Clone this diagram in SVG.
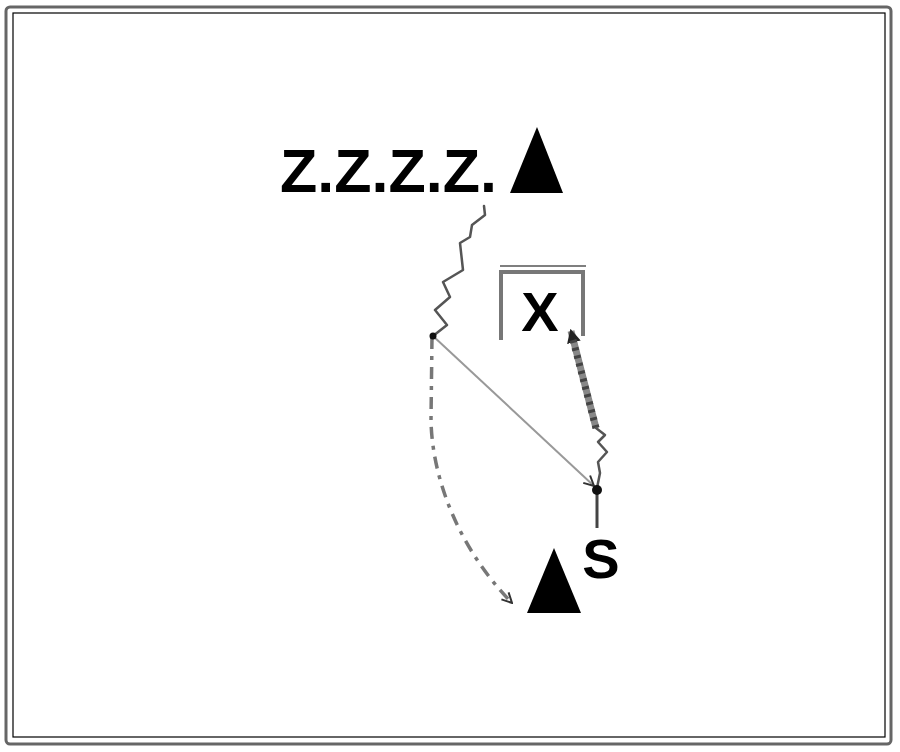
<svg xmlns="http://www.w3.org/2000/svg" width="900" height="752" viewBox="0 0 900 752">
<style>
.t{font-family:"Liberation Sans",Arial,sans-serif;font-weight:bold;fill:#000}
.wav{fill:none;stroke:#555;stroke-width:2.5;stroke-linejoin:round;stroke-linecap:round}
</style>
<defs>
<marker id="open" viewBox="0 0 12 12" refX="11" refY="6" markerWidth="12" markerHeight="12" markerUnits="userSpaceOnUse" orient="auto">
<path d="M1,1 L11,6 L1,11" fill="none" stroke="#333" stroke-width="2"/>
</marker>
<marker id="fill" viewBox="0 0 12 12" refX="10" refY="6" markerWidth="14" markerHeight="14" markerUnits="userSpaceOnUse" orient="auto">
<path d="M0,0 L12,6 L0,12 z" fill="#222"/>
</marker>
</defs>
<rect x="0" y="0" width="900" height="752" fill="#fff"/>
<rect x="6" y="7" width="885" height="737" rx="4" fill="none" stroke="#666" stroke-width="3"/>
<rect x="13" y="13" width="872" height="724" fill="none" stroke="#000" stroke-width="1.2"/>

<g id="connectors">
<polyline class="wav" points="484,206 485,215 472,225 470,237 460,243 463,270 443,282 450,297 435,310 447,325 433,336"/>
<line x1="433" y1="336" x2="594" y2="486" stroke="#999" stroke-width="2" marker-end="url(#open)"/>
<path d="M432,337 L431,420 C432,480 460,550 512,603" fill="none" stroke="#777" stroke-width="3.5" stroke-dasharray="12,7,4,7" marker-end="url(#open)"/>
<line x1="596" y1="428" x2="571" y2="331" stroke="#888" stroke-width="7" marker-end="url(#fill)"/>
<line x1="596" y1="428" x2="573" y2="340" stroke="#444" stroke-width="7" stroke-dasharray="3,5"/>
<polyline class="wav" points="596,428 605,435 598,442 607,452 598,462 600,473 597,488"/>
<line x1="597" y1="490" x2="597" y2="528" stroke="#444" stroke-width="3"/>
<circle cx="597" cy="490" r="5" fill="#111"/>
<circle cx="433" cy="336" r="3.5" fill="#111"/>
</g>

<g id="node-z">
<text class="t" x="280" y="192" font-size="61">Z.Z.Z.Z.</text>
</g>
<g id="node-tri-top">
<polygon points="537,127 510,193 563,193" fill="#000"/>
</g>
<g id="node-x">
<polyline points="501,340 501,272 583,272 583,336" fill="none" stroke="#777" stroke-width="4"/>
<line x1="500" y1="266" x2="586" y2="266" stroke="#000" stroke-width="1.2"/>
<text class="t" x="540" y="331" font-size="56" text-anchor="middle">X</text>
</g>
<g id="node-s">
<text class="t" x="601" y="578" font-size="56" text-anchor="middle">S</text>
</g>
<g id="node-tri-bottom">
<polygon points="554,548 527,613 581,613" fill="#000"/>
</g>
</svg>
